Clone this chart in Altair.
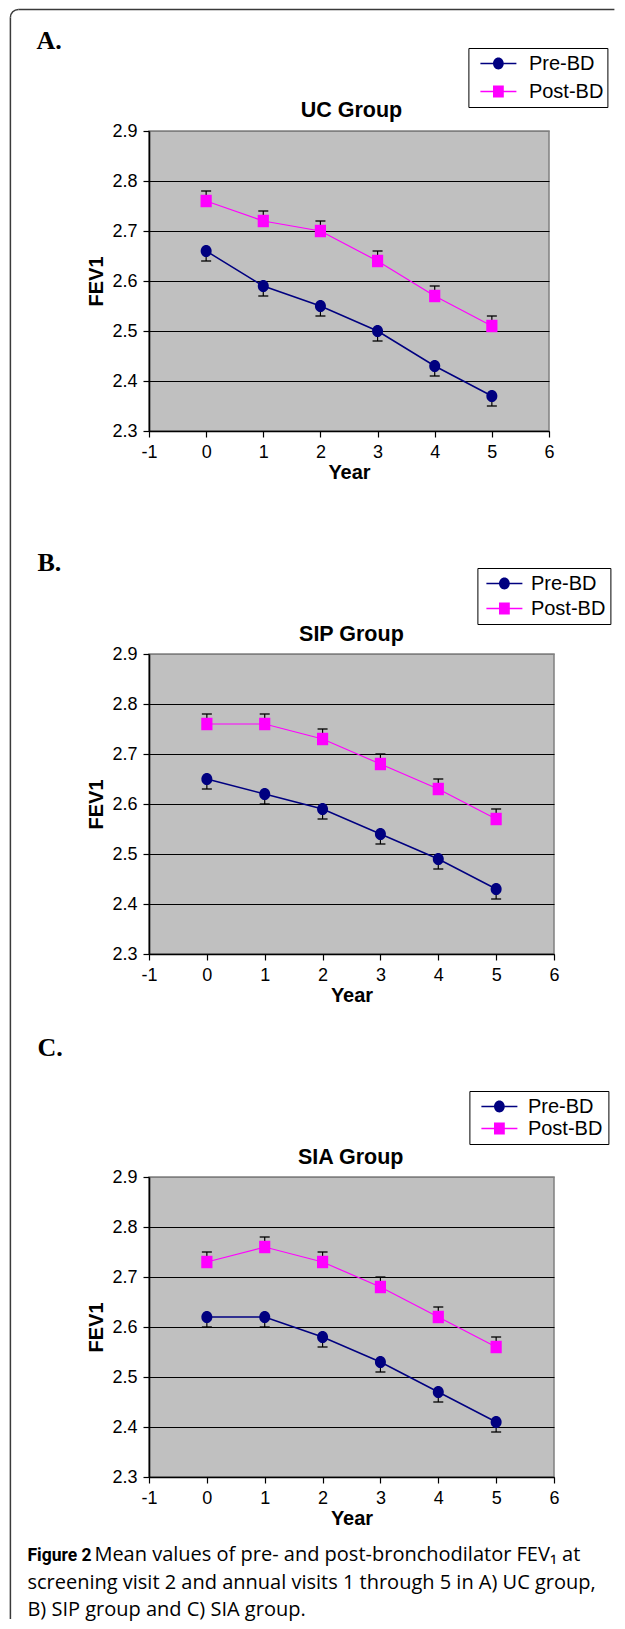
import altair as alt
import pandas as pd

# ---------------- data ----------------
YEARS = [0, 1, 2, 3, 4, 5]
SERIES = ["Pre-BD", "Post-BD"]
GROUPS = ["UC Group", "SIP Group", "SIA Group"]
LETTERS = ["A.", "B.", "C."]

UC_PRE = [2.66, 2.59, 2.55, 2.50, 2.43, 2.37]
UC_PRE_ERR = [2.64, 2.57, 2.53, 2.48, 2.41, 2.35]
UC_POST = [2.76, 2.72, 2.70, 2.64, 2.57, 2.51]
UC_POST_ERR = [2.78, 2.74, 2.72, 2.66, 2.59, 2.53]

SIP_PRE = [2.65, 2.62, 2.59, 2.54, 2.49, 2.43]
SIP_PRE_ERR = [2.63, 2.60, 2.57, 2.52, 2.47, 2.41]
SIP_POST = [2.76, 2.76, 2.73, 2.68, 2.63, 2.57]
SIP_POST_ERR = [2.78, 2.78, 2.75, 2.70, 2.65, 2.59]

SIA_PRE = [2.62, 2.62, 2.58, 2.53, 2.47, 2.41]
SIA_PRE_ERR = [2.60, 2.60, 2.56, 2.51, 2.45, 2.39]
SIA_POST = [2.73, 2.76, 2.73, 2.68, 2.62, 2.56]
SIA_POST_ERR = [2.75, 2.78, 2.75, 2.70, 2.64, 2.58]

X_TICKS = [-1, 0, 1, 2, 3, 4, 5, 6]
Y_TICKS = [2.3, 2.4, 2.5, 2.6, 2.7, 2.8, 2.9]
X_DOMAIN = [-1, 6]
Y_DOMAIN = [2.3, 2.9]

CAPTION_BOLD = "Figure 2"
CAPTION_LINE1 = "Mean values of pre- and post-bronchodilator FEV\u2081 at"
CAPTION_LINE2 = "screening visit 2 and annual visits 1 through 5 in A) UC group,"
CAPTION_LINE3 = "B) SIP group and C) SIA group."

PANEL_DATA = [
    (UC_PRE, UC_PRE_ERR, UC_POST, UC_POST_ERR),
    (SIP_PRE, SIP_PRE_ERR, SIP_POST, SIP_POST_ERR),
    (SIA_PRE, SIA_PRE_ERR, SIA_POST, SIA_POST_ERR),
]

rows = []
for g, (pre, pre_e, post, post_e) in zip(GROUPS, PANEL_DATA):
    for yr, v, e in zip(YEARS, pre, pre_e):
        rows.append({"group": g, "series": "Pre-BD", "year": yr, "value": v, "err": e})
    for yr, v, e in zip(YEARS, post, post_e):
        rows.append({"group": g, "series": "Post-BD", "year": yr, "value": v, "err": e})
df = pd.DataFrame(rows)

# ---------------- style ----------------
FONT = "Liberation Sans"
NAVY = "#000080"
MAGENTA = "#FF00FF"
BORDER = "#3a3a3a"
H = 300
WIDTHS = [400, 405, 405]
PLOT_LEFT = 147.6               # page x of plot areas
PLOT_TOPS = [130, 653, 1176]    # page y of plot areas

PRE_SHAPE = "M0,-1A0.9,1 0 1,1 0,1A0.9,1 0 1,1 0,-1Z"
POST_SHAPE = "M-0.9,-1H0.9V1H-0.9Z"
LEG_PRE = ("M-1,-0.04H-0.3V0.04H-1Z M0.3,-0.04H1V0.04H0.3Z "
           "M0,-0.333A0.3,0.333 0 1,1 0,0.333A0.3,0.333 0 1,1 0,-0.333Z")
LEG_POST = ("M-1,-0.04H-0.3V0.04H-1Z M0.3,-0.04H1V0.04H0.3Z "
            "M-0.3,-0.333H0.3V0.333H-0.3Z")

# legend boxes (page coords) and spacing
LEGENDS = [
    dict(x=467, y=47, pad=3.5, clip=24, rp=4, sym=12, lab=52),
    dict(x=476, y=567, pad=4.5, clip=22, rp=3, sym=9, lab=49),
    dict(x=468, y=1090, pad=5.5, clip=20, rp=2, sym=12, lab=52),
]
TITLE_POS = [(350, 115.5), (350, 640), (349.3, 1163.3)]
LETTER_POS = [(35, 48), (36, 570), (36, 1055)]

dummy = pd.DataFrame({"d": [0]})


def txt(text, px, py, top, size, weight="normal", font=FONT, align="left"):
    return alt.Chart(dummy).mark_text(
        text=text, font=font, fontSize=size, fontWeight=weight, align=align,
        baseline="alphabetic", color="black"
    ).encode(x=alt.value(px - PLOT_LEFT), y=alt.value(py - top))


def panel(i):
    g = GROUPS[i]
    w = WIDTHS[i]
    top = PLOT_TOPS[i]
    d = df[df.group == g]
    base = alt.Chart(d)

    x_axis = alt.Axis(
        values=X_TICKS, labelExpr="datum.value + ''", title="Year", grid=False,
        domainColor="black", domainWidth=1.6, tickColor="black", tickSize=6, tickWidth=1.2,
        labelFont=FONT, labelFontSize=18, labelColor="black", labelPadding=6,
        labelFlush=False, labelOverlap=False,
        titleFont=FONT, titleFontSize=20, titleFontWeight="bold", titleColor="black",
        titleX=w / 2, titleY=47.5, titleBaseline="alphabetic", titleAlign="center",
    )
    y_axis = alt.Axis(
        values=Y_TICKS, format=".1f", title="FEV1", grid=True,
        gridColor=alt.condition("datum.value > 2.85", alt.value("#808080"), alt.value("#000000")),
        gridWidth=1.2, gridOpacity=1,
        domainColor="black", domainWidth=1.6, tickColor="black", tickSize=6, tickWidth=1.2,
        labelFont=FONT, labelFontSize=18, labelColor="black", labelPadding=6,
        labelFlush=False, labelOverlap=False,
        titleFont=FONT, titleFontSize=20, titleFontWeight="bold", titleColor="black",
        titleAngle=270, titleX=-47, titleY=H / 2, titleBaseline="alphabetic", titleAlign="center",
    )
    xs = alt.Scale(domain=X_DOMAIN, nice=False, zero=False)
    ys = alt.Scale(domain=Y_DOMAIN, nice=False, zero=False)
    X = alt.X("year:Q", scale=xs, axis=x_axis)
    Y = alt.Y("value:Q", scale=ys, axis=y_axis)

    pre = base.transform_filter("datum.series == 'Pre-BD'")
    post = base.transform_filter("datum.series == 'Post-BD'")

    pre_line = pre.mark_line(strokeWidth=1.5, color=NAVY).encode(x=X, y=Y)
    post_line = post.mark_line(strokeWidth=1.2, color=MAGENTA).encode(x=X, y=Y)
    err = base.mark_rule(color="black", strokeWidth=1.2).encode(x=X, y=Y, y2="err:Q")
    caps = base.mark_tick(color="black", orient="horizontal", size=10, thickness=1.3,
                          opacity=1).encode(
        x=X, y=alt.Y("err:Q", scale=ys, axis=y_axis))
    pre_pts = pre.mark_point(shape=PRE_SHAPE, filled=True, size=150, opacity=1,
                             color=NAVY).encode(x=X, y=Y)
    post_pts = post.mark_point(shape=POST_SHAPE, filled=True, size=155, opacity=1,
                               color=MAGENTA).encode(x=X, y=Y)

    L = LEGENDS[i]
    leg = alt.Legend(
        orient="none", legendX=L["x"] - PLOT_LEFT, legendY=L["y"] - top, title=None,
        direction="vertical", labelFont=FONT, labelFontSize=20, labelColor="black",
        labelLimit=400, symbolSize=1296, symbolStrokeWidth=0, symbolOpacity=1,
        symbolOffset=L["sym"] - L["pad"], labelOffset=L["lab"] - L["pad"] - 36,
        padding=L["pad"], clipHeight=L["clip"], rowPadding=L["rp"],
        strokeColor="black", fillColor="white",
    )
    cscale = alt.Scale(domain=SERIES, range=[NAVY, MAGENTA])
    leg_layer = base.transform_filter("false").mark_point(filled=True, opacity=1).encode(
        x=X, y=Y,
        color=alt.Color("series:N", scale=cscale, legend=leg),
        shape=alt.Shape("series:N", scale=alt.Scale(domain=SERIES, range=[LEG_PRE, LEG_POST]),
                        legend=leg),
    )

    tx, ty = TITLE_POS[i]
    title = txt(g, tx, ty, top, 21.5, weight="bold", align="center")
    lx, ly = LETTER_POS[i]
    letter = txt(LETTERS[i], lx, ly, top, 26, weight="bold", font="Liberation Serif")

    layers = [pre_line, post_line, err, caps, pre_pts, post_pts, leg_layer, title, letter]

    if i == 0:
        border_left = alt.Chart(dummy).mark_rule(color=BORDER, strokeWidth=1.5).encode(
            x=alt.value(9 - PLOT_LEFT), y=alt.value(16.5 - top), y2=alt.value(1618 - top))
        border_top = alt.Chart(dummy).mark_rule(color=BORDER, strokeWidth=1.5).encode(
            x=alt.value(17 - PLOT_LEFT), x2=alt.value(613 - PLOT_LEFT), y=alt.value(8.5 - top))
        corner = alt.Chart(dummy).mark_arc(
            innerRadius=7.25, outerRadius=8.75, theta=4.712389, theta2=6.283185,
            color=BORDER).encode(x=alt.value(17 - PLOT_LEFT), y=alt.value(16.5 - top))
        layers += [border_left, border_top, corner]
    if i == 2:
        layers += [
            txt(CAPTION_BOLD, 26, 1560, top, 17.5, weight="bold", font="Roboto"),
            txt(CAPTION_LINE1, 93, 1560, top, 20, font="Open Sans"),
            txt(CAPTION_LINE2, 26, 1587.5, top, 20, font="Open Sans"),
            txt(CAPTION_LINE3, 26, 1615, top, 20, font="Open Sans"),
        ]

    return alt.layer(*layers).properties(width=w, height=H)


chart = (
    alt.vconcat(panel(0), panel(1), panel(2), spacing=223, bounds="flush")
    .resolve_scale(color="independent", shape="independent")
    .resolve_legend(color="independent", shape="independent")
    .properties(padding=0)
    .configure_view(fill="#C0C0C0", stroke="#808080", strokeWidth=1.5)
)

chart.save("out.html", embed_options={"renderer": "svg", "actions": False})
